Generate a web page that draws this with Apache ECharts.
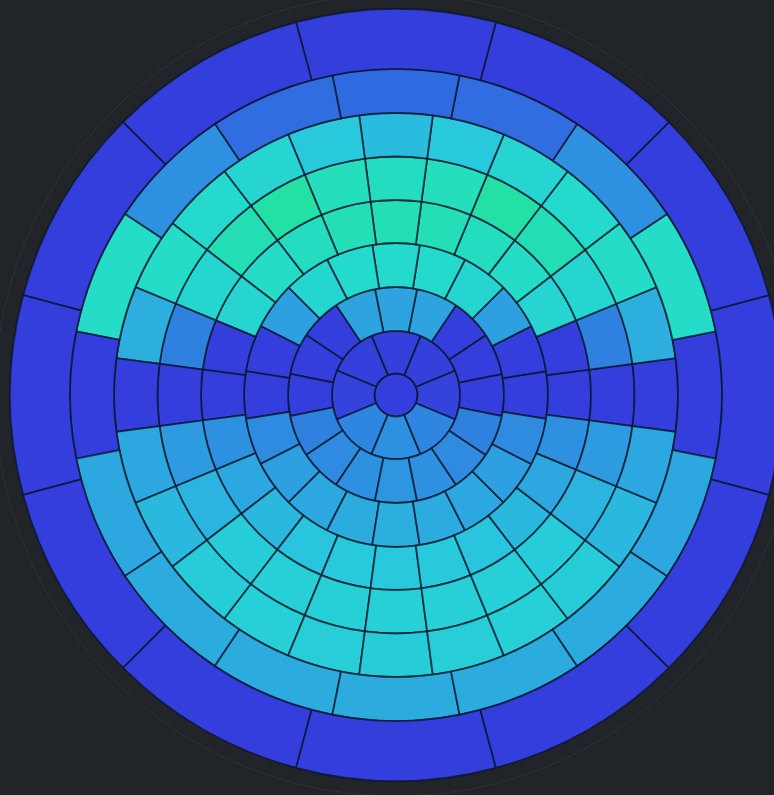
<!DOCTYPE html>
<html>
<head>
<meta charset="utf-8">
<script src="https://cdn.jsdelivr.net/npm/echarts@6/dist/echarts.min.js"></script>
<style>
  html, body { margin: 0; padding: 0; background: #212429; }
  #chart { width: 774px; height: 795px; }
</style>
</head>
<body>
<div id="chart"></div>
<script>
// Radial edges of the rings (radius-axis units)
const ringEdges = [0, 21.5, 64, 108, 152, 195, 238.5, 282, 326, 386];

// Cell values per ring, cell k centred at angle k*360/n (counter-clockwise from east)
const ring0 = [0];
const ring1 = [0.1, 0.05, 0.05, 0.05, 0.1, 1.5, 1.7, 1.5];
const ring2 = [0, 0, 0, 2.1, 2.1, 2.1, 0, 0, 0, 1.4, 1.6, 1.7, 1.8, 1.7, 1.6, 1.4];
const ring3 = [0, 0, 2.0, 3.7, 3.9, 3.9, 3.9, 3.7, 2.0, 0, 0, 1.6, 2.0, 2.2, 2.3, 2.4, 2.3, 2.2, 2.0, 1.6];
const ring4 = [0, 0, 3.6, 4.1, 4.3, 4.5, 4.5, 4.5, 4.3, 4.1, 3.6, 0, 0, 1.7, 2.2, 2.6, 2.9, 3.0, 3.0, 3.0, 2.9, 2.6, 2.2, 1.7];
const ring5 = [0, 1.4, 3.7, 4.6, 5.0, 4.4, 4.3, 4.4, 5.0, 4.6, 3.7, 1.4, 0, 1.9, 2.5, 3.2, 3.4, 3.4, 3.4, 3.4, 3.4, 3.2, 2.5, 1.9];
const ring6 = [0, 2.4, 4.1, 3.9, 3.6, 3.0, 2.7, 3.0, 3.6, 3.9, 4.1, 2.4, 0, 2.2, 2.6, 3.2, 3.4, 3.3, 3.2, 3.3, 3.4, 3.2, 2.6, 2.2];
const ring7 = [0, 4.1, 1.7, 1.0, 0.95, 1.0, 1.7, 4.1, 0, 2.2, 2.3, 2.3, 2.3, 2.3, 2.3, 2.2];
const ring8 = [0, 0, 0, 0, 0, 0, 0, 0, 0, 0, 0, 0];
const rings = [ring0, ring1, ring2, ring3, ring4, ring5, ring6, ring7, ring8];

const palette = ['#333edc', '#2f6de0', '#2e9fe0', '#28c8dd', '#24dccb', '#23e0a5'];

const cells = [];
rings.forEach((vals, i) => {
  const n = vals.length;
  const step = 360 / n;
  vals.forEach((v, k) => {
    const a0 = k * step - step / 2;
    cells.push([ringEdges[i], ringEdges[i + 1], a0, a0 + step, v]);
  });
});

const chart = echarts.init(document.getElementById('chart'), null, { renderer: 'canvas' });

function renderCell(params, api) {
  const cs = params.coordSys;
  const cx = cs.cx, cy = cs.cy;
  const rIn = api.value(0), rOut = api.value(1), a0 = api.value(2), a1 = api.value(3);
  const pIn = api.coord([rIn, a0]);
  const q0 = api.coord([rOut, a0]);
  const q1 = api.coord([rOut, a1]);
  const r0 = Math.hypot(pIn[0] - cx, pIn[1] - cy);
  const r = Math.hypot(q0[0] - cx, q0[1] - cy);
  let sa = Math.atan2(q1[1] - cy, q1[0] - cx);
  let ea = Math.atan2(q0[1] - cy, q0[0] - cx);
  if (a1 - a0 >= 359.999) {
    ea = sa + Math.PI * 2;
  } else {
    while (ea <= sa) ea += Math.PI * 2;
  }
  return {
    type: 'sector',
    shape: { cx: cx, cy: cy, r0: r0, r: r, startAngle: sa, endAngle: ea, clockwise: true },
    style: {
      fill: api.visual('color'),
      stroke: 'rgba(10,22,40,0.75)',
      lineWidth: 1.8
    }
  };
}

chart.setOption({
  backgroundColor: '#212429',
  animation: false,
  polar: { center: [396, 395], radius: 401 },
  angleAxis: {
    type: 'value', min: 0, max: 360, startAngle: 0, clockwise: false,
    axisLine: { show: true, lineStyle: { color: 'rgba(210,195,160,0.22)', width: 0.6, type: 'dashed' } },
    axisTick: { show: false }, axisLabel: { show: false }, splitLine: { show: false }
  },
  radiusAxis: {
    type: 'value', min: 0, max: 401,
    axisLine: { show: false }, axisTick: { show: false }, axisLabel: { show: false }, splitLine: { show: false }
  },
  visualMap: {
    type: 'continuous', show: false, min: 0, max: 5, dimension: 4, seriesIndex: 0,
    inRange: { color: palette }
  },
  series: [{
    type: 'custom',
    coordinateSystem: 'polar',
    renderItem: renderCell,
    data: cells
  }]
});
</script>
</body>
</html>
